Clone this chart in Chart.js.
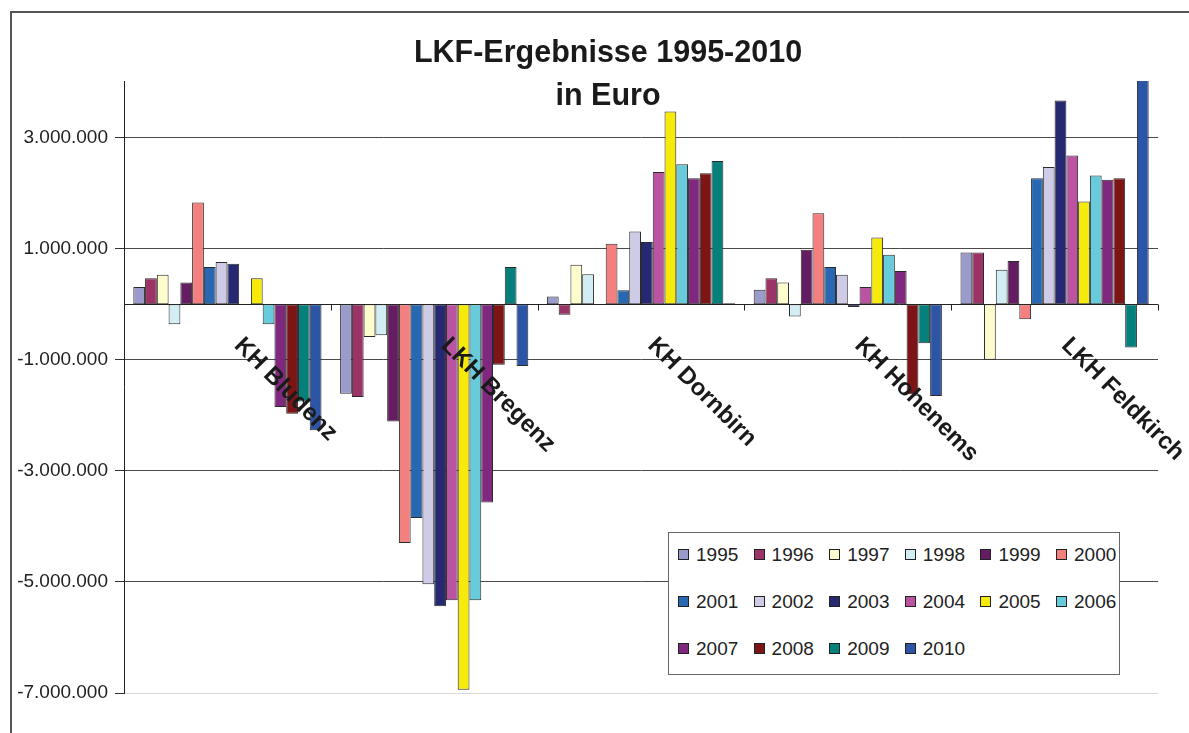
<!DOCTYPE html>
<html>
<head>
<meta charset="utf-8">
<title>LKF-Ergebnisse 1995-2010</title>
<script src="https://cdn.jsdelivr.net/npm/chart.js@4.4.1/dist/chart.umd.min.js"></script>
<style>
    html, body { margin: 0; padding: 0; background: #fff; }
    #wrap { position: relative; width: 1189px; height: 733px; overflow: hidden; }
    #frame { position: absolute; left: 10px; top: 11px; width: 1200px; height: 740px; border-left: 2px solid #555; border-top: 2px solid #555; }
    #chart { position: absolute; left: 0; top: 0; }
    #legend { position: absolute; left: 668px; top: 532px; width: 450px; height: 141px; border: 1px solid #666; background: #fff; font: 19px "Liberation Sans", Arial, sans-serif; color: #222; }
    .item { position: absolute; height: 22px; line-height: 22px; white-space: nowrap; }
    .box { display: inline-block; width: 9px; height: 9px; border: 1px solid #222; vertical-align: middle; margin-right: 7px; position: relative; top: -1px; }
</style>
</head>
<body>
<div id="wrap">
    <div id="frame"></div>
    <canvas id="chart" width="1189" height="733"></canvas>
    <div id="legend"></div>
</div>
<script>
const categories = ['KH Bludenz', 'LKH Bregenz', 'KH Dornbirn', 'KH Hohenems', 'LKH Feldkirch'];
const years = ['1995', '1996', '1997', '1998', '1999', '2000', '2001', '2002',
    '2003', '2004', '2005', '2006', '2007', '2008', '2009', '2010'];
const yearColors = ['#9a9acb', '#9b3366', '#fdfccc', '#d2eef4', '#641c62', '#f47f7f', '#2867b2', '#cdcbe6',
    '#262872', '#bb54a0', '#f5ea0a', '#67cbdb', '#80287e', '#7d1416', '#06807a', '#2d55a6'];

// Ergebnisse in Euro, je Haus (Reihenfolge wie categories)
const v1995 = [310000, -1610000, 140000, 260000, 930000];
const v1996 = [470000, -1670000, -190000, 470000, 930000];
const v1997 = [530000, -590000, 710000, 390000, -1000000];
const v1998 = [-360000, -560000, 540000, -220000, 620000];
const v1999 = [390000, -2110000, null, 980000, 780000];
const v2000 = [1830000, -4300000, 1090000, 1640000, -270000];
const v2001 = [670000, -3850000, 250000, 670000, 2270000];
const v2002 = [760000, -5040000, 1310000, 530000, 2470000];
const v2003 = [730000, -5440000, 1120000, -50000, 3670000];
const v2004 = [null, -5330000, 2380000, 310000, 2680000];
const v2005 = [470000, -6940000, 3470000, 1200000, 1850000];
const v2006 = [-360000, -5330000, 2520000, 890000, 2320000];
const v2007 = [-1850000, -3570000, 2270000, 600000, 2240000];
const v2008 = [-1970000, -1090000, 2360000, -1620000, 2270000];
const v2009 = [-1750000, 670000, 2580000, -700000, -780000];
const v2010 = [-2270000, -1110000, 20000, -1650000, 4300000];

const seriesValues = [v1995, v1996, v1997, v1998, v1999, v2000, v2001, v2002,
    v2003, v2004, v2005, v2006, v2007, v2008, v2009, v2010];

const yTicks = [-7000000, -5000000, -3000000, -1000000, 1000000, 3000000];
const yMin = -7000000;
const yMax = 4020000;

const titleLines = ['LKF-Ergebnisse 1995-2010', 'in Euro'];
const fontFamily = '"Liberation Sans", Arial, Helvetica, sans-serif';

function formatEuro(value) {
    const sign = value < 0 ? '-' : '';
    return sign + String(Math.abs(value)).replace(/\B(?=(\d{3})+(?!\d))/g, '.');
}

const decorPlugin = {
    id: 'decor',
    beforeDatasetsDraw(chart) {
        const { ctx, chartArea, scales } = chart;
        const zeroY = Math.round(scales.y.getPixelForValue(0)) + 0.5;
        const half = (scales.x.getPixelForValue(1) - scales.x.getPixelForValue(0)) / 2;
        ctx.save();
        ctx.strokeStyle = '#222';
        ctx.lineWidth = 1;
        ctx.beginPath();
        ctx.moveTo(chartArea.left, zeroY);
        ctx.lineTo(chartArea.right, zeroY);
        categories.forEach(function (c, i) {
            const px = Math.round(scales.x.getPixelForValue(i) + half) + 0.5;
            ctx.moveTo(px, zeroY);
            ctx.lineTo(px, zeroY + 6);
        });
        ctx.stroke();
        ctx.restore();
    },
    afterDatasetsDraw(chart) {
        const { ctx, scales } = chart;
        const zeroY = scales.y.getPixelForValue(0);
        ctx.save();
        ctx.fillStyle = '#1a1a1a';
        ctx.font = 'bold 24px ' + fontFamily;
        ctx.textAlign = 'left';
        ctx.textBaseline = 'top';
        categories.forEach(function (c, i) {
            const cx = scales.x.getPixelForValue(i);
            ctx.save();
            ctx.translate(cx + 19, zeroY + 29);
            ctx.rotate(Math.PI / 4);
            ctx.fillText(c, 0, 0);
            ctx.restore();
        });
        ctx.restore();
    },
    afterDraw(chart) {
        const ctx = chart.ctx;
        ctx.save();
        ctx.fillStyle = '#1a1a1a';
        ctx.font = 'bold 30.5px ' + fontFamily;
        ctx.textAlign = 'center';
        ctx.textBaseline = 'alphabetic';
        ctx.fillText(titleLines[0], 608, 62);
        ctx.fillText(titleLines[1], 608, 105);
        ctx.restore();
    }
};

const chart = new Chart(document.getElementById('chart').getContext('2d'), {
    type: 'bar',
    data: {
        labels: categories,
        datasets: years.map(function (year, i) {
            return {
                label: year,
                data: seriesValues[i],
                backgroundColor: yearColors[i],
                borderColor: '#2b2b2b',
                borderWidth: 1,
                borderSkipped: false,
                categoryPercentage: 0.91,
                barPercentage: 1,
                clip: 0
            };
        })
    },
    options: {
        responsive: false,
        animation: false,
        layout: {
            padding: { left: 0, top: 81, right: 31, bottom: 40 }
        },
        scales: {
            x: {
                display: false
            },
            y: {
                min: yMin,
                max: yMax,
                afterFit: function (scale) {
                    scale.width = 124;
                },
                afterBuildTicks: function (scale) {
                    scale.ticks = yTicks.map(function (v) { return { value: v }; });
                },
                ticks: {
                    callback: function (value) { return formatEuro(value); },
                    color: '#222',
                    padding: 7,
                    font: { size: 19, family: fontFamily }
                },
                grid: {
                    color: function (ctx) {
                        return ctx.tick && ctx.tick.value === yMin ? '#d8d8d8' : '#4a4a4a';
                    },
                    tickColor: '#333',
                    tickLength: 9,
                    lineWidth: 1
                },
                border: {
                    display: true,
                    color: '#222',
                    width: 1
                }
            }
        },
        plugins: {
            legend: { display: false },
            tooltip: { enabled: false }
        }
    },
    plugins: [decorPlugin]
});

const legendBox = document.getElementById('legend');
years.forEach(function (year, i) {
    const col = i % 6;
    const row = Math.floor(i / 6);
    const item = document.createElement('div');
    item.className = 'item';
    item.style.left = (9 + col * 75.6) + 'px';
    item.style.top = (11 + row * 47) + 'px';
    item.innerHTML = '<span class="box" style="background:' + yearColors[i] + '"></span>' + year;
    legendBox.appendChild(item);
});
</script>
</body>
</html>
